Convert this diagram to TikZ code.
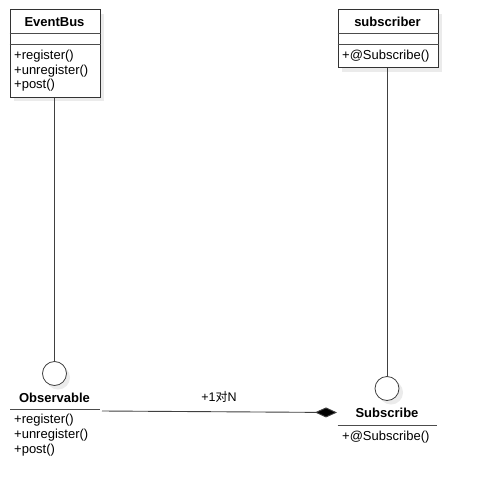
\documentclass[tikz,border=0pt]{standalone}
\usepackage{fontspec}
\setmainfont{Liberation Sans}
\newfontfamily\cjk{Noto Sans CJK SC}
\usetikzlibrary{arrows.meta}
\begin{document}
\begin{tikzpicture}[x=1pt,y=-1pt,
  umlbox/.style={draw=black!80, fill=white, line width=1pt, anchor=north west, inner sep=0},
  shadowbox/.style={fill=black!8, draw=none, anchor=north west, inner sep=0},
  lollipop/.style={draw=black!75, fill=white, circle, minimum size=24pt, inner sep=0, line width=0.8pt},
  lollishadow/.style={fill=black!8, draw=none, circle, minimum size=24pt, inner sep=0},
  titletext/.style={font=\fontsize{13}{15}\selectfont\bfseries, inner sep=0},
  meth/.style={font=\fontsize{13}{15}\selectfont, anchor=west, inner sep=0},
  rule/.style={draw=black!70, line width=1pt},
  link/.style={draw=black!75, line width=0.9pt}
]
\useasboundingbox[fill=white] (0,0) rectangle (477,503);

% EventBus class
\node[shadowbox, minimum width=90pt, minimum height=87pt] at (14,14) {};
\node[umlbox, minimum width=90pt, minimum height=87pt] (eb) at (9.5,9.5) {};
\draw[rule] ([yshift=-24.5pt]eb.north west) -- ([yshift=-24.5pt]eb.north east);
\draw[rule] ([yshift=-35.5pt]eb.north west) -- ([yshift=-35.5pt]eb.north east);
\node[titletext] (ebt) at (54.5,22) {EventBus};
\node[meth] (eb1) at (14,56) {+register()};
\node[meth] (eb2) at (14,71) {+unregister()};
\node[meth] (eb3) at (14,85.5) {+post()};

% subscriber class
\node[shadowbox, minimum width=100pt, minimum height=57.5pt] at (341.5,14) {};
\node[umlbox, minimum width=100pt, minimum height=57.5pt] (sb) at (337.5,9.5) {};
\draw[rule] ([yshift=-24.5pt]sb.north west) -- ([yshift=-24.5pt]sb.north east);
\draw[rule] ([yshift=-35pt]sb.north west) -- ([yshift=-35pt]sb.north east);
\node[titletext] (sbt) at (387.5,22) {subscriber};
\node[meth] (sb1) at (342,56) {+@Subscribe()};

% Observable interface
\node[lollishadow] at (58,377.5) {};
\node[lollipop] (obc) at (54.5,373.5) {};
\node[titletext] (obt) at (54.5,398) {Observable};
\coordinate (obl) at (10,409);
\coordinate (obr) at (100,409);
\draw[rule] (obl) -- (obr);
\node[meth] (ob1) at (14,420.5) {+register()};
\node[meth] (ob2) at (14,435.5) {+unregister()};
\node[meth] (ob3) at (14,450.5) {+post()};

% Subscribe interface
\node[lollishadow] at (391,392.5) {};
\node[lollipop] (suc) at (387,388.5) {};
\node[titletext] (sut) at (387,413) {Subscribe};
\coordinate (sul) at (337.5,425);
\coordinate (sur) at (437,425);
\draw[rule] (sul) -- (sur);
\node[meth] (su1) at (342,437.5) {+@Subscribe()};

% realisation lines
\draw[link] (eb.south -| obc) -- (obc.north);
\draw[link] (sb.south -| suc) -- (suc.north);

% composition
\coordinate (cs) at (102,411);
\coordinate (ce) at (337,412.5);
\draw[link, -{Diamond[length=22pt,width=10pt,fill=black]}] (cs) -- (ce);
\node[font=\fontsize{12.5}{15}\selectfont, inner sep=0] (lbl) at (219,396.5) {+1{\cjk\fontsize{12}{15}\selectfont 对}N};
\end{tikzpicture}
\end{document}
